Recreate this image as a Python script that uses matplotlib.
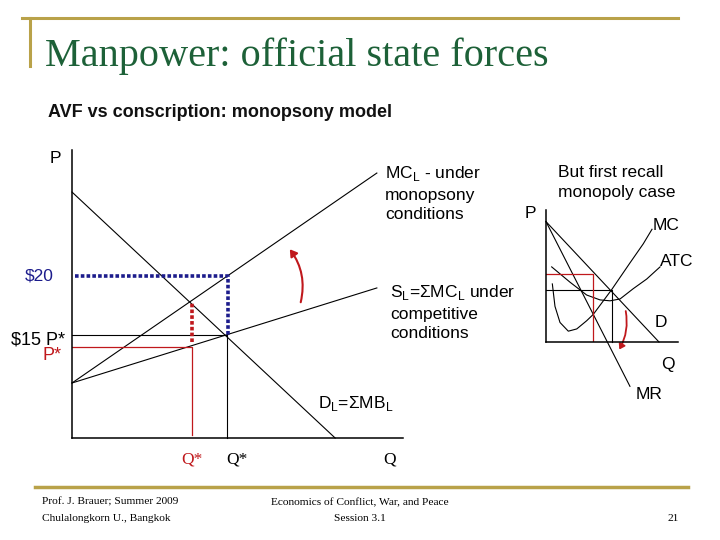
import matplotlib.pyplot as plt
from matplotlib.patches import FancyArrowPatch

# ---- main diagram (abstract units, Q and P both 0..10)
demand_q = [0.0, 7.95]
demand_p = [8.54, 0.0]
supply_q = [0.0, 9.21]
supply_p = [1.91, 5.21]
mcl_q = [0.0, 9.21]
mcl_p = [1.91, 9.20]
q_comp, p_comp = 4.68, 3.58        # competitive equilibrium ($15)
q_mono, p_mono = 3.63, 3.15        # monopsony Q*, P*
p_mono_mcl = 4.72                  # MCL = D at Q*
p_twenty = 5.63                    # $20 wage
q_twenty = 4.71

# ---- inset monopoly diagram
d_q = [0.0, 8.56]
d_p = [9.12, 0.0]
mr_q = [0.0, 6.36]
mr_p = [9.12, -3.36]
mc_q = [0.48, 0.68, 1.06, 1.69, 2.33, 3.08, 3.58, 4.97, 6.36, 7.37, 8.03]
mc_p = [4.40, 2.70, 1.48, 0.82, 0.99, 1.61, 2.09, 3.96, 5.99, 7.44, 8.54]
atc_q = [0.43, 1.82, 3.08, 4.09, 4.85, 5.61, 6.61, 7.63, 8.64]
atc_p = [5.69, 4.53, 3.56, 3.19, 3.12, 3.26, 4.04, 4.77, 5.69]
qm, pm = 3.56, 5.18
qc, pc = 4.97, 3.94

RED = "#c0181c"
BLUE = "#1c1c8c"
GOLD = "#b9a249"
GREEN = "#1d6138"
plt.rcParams['font.family'] = ['Liberation Sans', 'DejaVu Sans']

fig = plt.figure(figsize=(7.2, 5.4), dpi=100)

# slide decoration
deco = fig.add_axes([0, 0, 1, 1])
deco.set_xlim(0, 720)
deco.set_ylim(540, 0)
deco.axis("off")
deco.plot([22, 678], [18, 18], color=GOLD, lw=2.2)
deco.plot([30, 30], [18, 66], color=GOLD, lw=2.2)
deco.plot([35, 688], [487, 487], color=GOLD, lw=2.5)

fig.text(45 / 720, 1 - 66 / 540, "Manpower: official state forces", color=GREEN,
         family="Liberation Serif", fontsize=29, va="baseline")
fig.text(48 / 720, 1 - 117 / 540, "AVF vs conscription: monopsony model", fontsize=13,
         weight="bold", color="#111111")

foot = dict(family="Liberation Serif", fontsize=8.2)
fig.text(42 / 720, 1 - 505 / 540, "Prof. J. Brauer; Summer 2009", **foot)
fig.text(42 / 720, 1 - 521 / 540, "Chulalongkorn U., Bangkok", **foot)
fig.text(360 / 720, 1 - 505 / 540, "Economics of Conflict, War, and Peace", ha="center", **foot)
fig.text(360 / 720, 1 - 521 / 540, "Session 3.1", ha="center", **foot)
fig.text(679 / 720, 1 - 521 / 540, "21", ha="right", **foot)

# ---- main axes
ax = fig.add_axes([72 / 720, 1 - 438 / 540, 331 / 720, 288 / 540])
ax.set_xlim(0, 10)
ax.set_ylim(0, 10)
for s in ["top", "right"]:
    ax.spines[s].set_visible(False)
for s in ["left", "bottom"]:
    ax.spines[s].set_linewidth(1.1)
ax.set_xticks([])
ax.set_yticks([])
ax.patch.set_alpha(0)

thin = dict(color="black", lw=0.8, clip_on=False)
ax.plot(demand_q, demand_p, **thin)
ax.plot(supply_q, supply_p, **thin)
ax.plot(mcl_q, mcl_p, **thin)
ax.plot([0, q_comp], [p_comp, p_comp], **thin)
ax.plot([q_comp, q_comp], [0, p_comp], **thin)
ax.plot([0, q_mono, q_mono], [p_mono, p_mono, 0.1], color=RED, lw=0.9)
ax.plot([q_mono, q_mono], [p_mono + 0.2, p_mono_mcl], color=RED, lw=2.6, ls=(0, (1, 0.6)))
ax.plot([0.1, q_twenty, q_twenty], [p_twenty, p_twenty, p_comp], color=BLUE, lw=2.6,
        ls=(0, (1, 0.6)))
ax.add_patch(FancyArrowPatch((6.89, 4.62), (6.53, 6.63), connectionstyle="arc3,rad=0.25",
                             arrowstyle="-|>,head_length=4,head_width=2.5", color=RED,
                             lw=1.5, clip_on=False))

lab = dict(fontsize=12.5, clip_on=False)
ax.text(-0.5, 9.55, "P", ha="center", **lab)
ax.text(-0.55, 5.63, "$20", color=BLUE, ha="right", va="center", **lab)
ax.text(-0.2, 3.4, "$15 P*", ha="right", va="center", fontsize=13, clip_on=False)
ax.text(-0.3, 2.85, "P*", color=RED, ha="right", va="center", fontsize=13, clip_on=False)
ax.text(q_mono, -0.75, "Q*", color=RED, ha="center", va="center", family="Liberation Serif",
        fontsize=12.5)
ax.text(q_comp + 0.3, -0.75, "Q*", ha="center", va="center", family="Liberation Serif",
        fontsize=12.5)
ax.text(9.6, -0.75, "Q", ha="center", va="center", family="Liberation Serif", fontsize=12.5)
ax.text(7.43, 1.2, "D$_\\mathregular{L}$=ΣMB$_\\mathregular{L}$", va="center", **lab)
ax.text(9.46, 8.5, "MC$_\\mathregular{L}$ - under\nmonopsony\nconditions", va="center",
        linespacing=1.38, **lab)
ax.text(9.6, 4.37, "S$_\\mathregular{L}$=ΣMC$_\\mathregular{L}$ under\ncompetitive\nconditions",
        va="center", linespacing=1.38, **lab)

# ---- inset axes
ins = fig.add_axes([546 / 720, 1 - 342 / 540, 132 / 720, 132 / 540])
ins.set_xlim(0, 10)
ins.set_ylim(0, 10)
for s in ["top", "right"]:
    ins.spines[s].set_visible(False)
for s in ["left", "bottom"]:
    ins.spines[s].set_linewidth(1.1)
ins.set_xticks([])
ins.set_yticks([])
ins.patch.set_alpha(0)

ins.plot(d_q, d_p, **thin)
ins.plot(mr_q, mr_p, **thin)
ins.plot(mc_q, mc_p, **thin)
ins.plot(atc_q, atc_p, **thin)
ins.plot([0, qc, qc], [pc, pc, 0], **thin)
ins.plot([0, qm, qm], [pm, pm, 0], color=RED, lw=0.9)
ins.add_patch(FancyArrowPatch((6.0, 2.55), (5.45, -0.75), connectionstyle="arc3,rad=-0.2",
                              arrowstyle="-|>,head_length=3,head_width=2", color=RED,
                              lw=1.3, clip_on=False))

ins.text(-1.2, 9.75, "P", ha="center", va="center", **lab)
ins.text(0.9, 12.1, "But first recall\nmonopoly case", va="center", linespacing=1.45, **lab)
ins.text(8.1, 8.8, "MC", va="center", **lab)
ins.text(8.6, 6.1, "ATC", va="center", **lab)
ins.text(8.2, 1.5, "D", va="center", **lab)
ins.text(8.7, -1.7, "Q", va="center", **lab)
ins.text(6.8, -4.0, "MR", va="center", **lab)

fig.savefig("out.png", dpi=100)
